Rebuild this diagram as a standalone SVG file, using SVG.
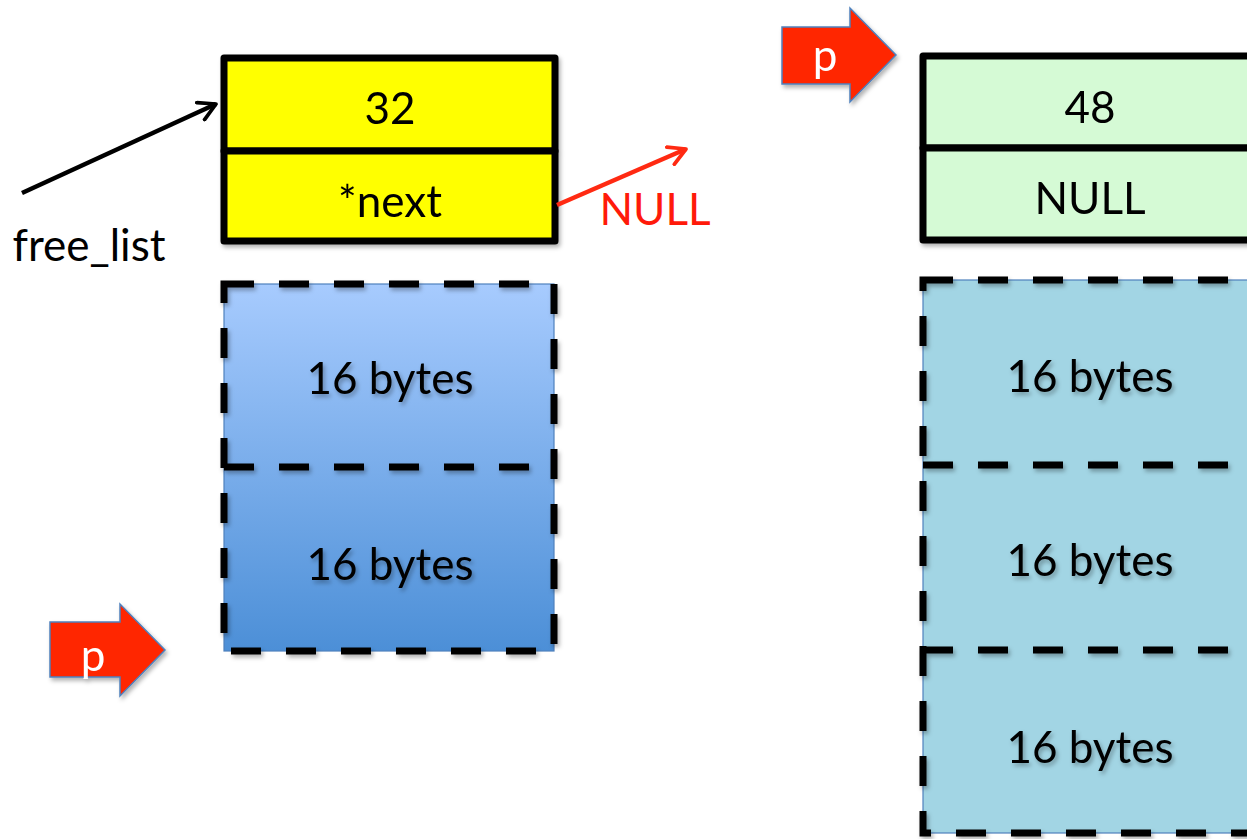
<svg xmlns="http://www.w3.org/2000/svg" width="1247" height="839" viewBox="0 0 1247 839">
<style>
.t{font-family:Lato,"Open Sans","Liberation Sans",sans-serif;font-size:44px;text-anchor:middle;fill:#000}
.solid{stroke:#000;stroke-width:7;stroke-linejoin:round}
.dash{fill:none;stroke:#000;stroke-width:7;stroke-dasharray:30 25}
.thin{stroke:#4f81bd;stroke-width:1.2}
.parrow{fill:#ff2600;stroke:#4f81bd;stroke-width:1.5}
.pt{font-family:Lato,"Open Sans","Liberation Sans",sans-serif;font-size:44px;text-anchor:middle;fill:#fff}
</style>
<defs>
<linearGradient id="blue" x1="0" y1="0" x2="0" y2="1">
<stop offset="0" stop-color="#a7cbfe"/>
<stop offset="1" stop-color="#4c8fd7"/>
</linearGradient>
<filter id="sh" x="-10%" y="-10%" width="130%" height="130%">
<feDropShadow dx="2" dy="3" stdDeviation="2" flood-color="#000" flood-opacity="0.3"/>
</filter>
<marker id="ab" viewBox="0 0 12 12" refX="10" refY="6" markerWidth="5" markerHeight="5" orient="auto" markerUnits="strokeWidth">
<path d="M1,1 L10,6 L1,11" fill="none" stroke="#000" stroke-width="2" stroke-linecap="round" stroke-linejoin="round"/>
</marker>
<marker id="ar" viewBox="0 0 12 12" refX="10" refY="6" markerWidth="5" markerHeight="5" orient="auto" markerUnits="strokeWidth">
<path d="M1,1 L10,6 L1,11" fill="none" stroke="#ff2a12" stroke-width="2" stroke-linecap="round" stroke-linejoin="round"/>
</marker>
</defs>
<rect width="1247" height="839" fill="#fff"/>

<g id="node-32" filter="url(#sh)">
<rect x="224" y="58" width="331" height="93" fill="#ffff00" class="solid"/>
<rect x="224" y="151" width="331" height="90" fill="#ffff00" class="solid"/>
<text class="t" x="390" y="124">32</text>
<text class="t" x="390" y="217">*next</text>
</g>

<g id="free-list-label">
<text class="t" x="89" y="261">free_list</text>
</g>
<g id="null-label">
<text class="t" x="655" y="225" style="fill:#ff1a0a">NULL</text>
</g>

<g id="left-blocks">
<rect x="224" y="284" width="330" height="367" fill="url(#blue)" class="thin"/>
<g filter="url(#sh)">
<rect x="224" y="284" width="330" height="367" class="dash"/>
<line x1="224" y1="467" x2="554" y2="467" class="dash"/>
</g>
<text class="t" x="390" y="394" filter="url(#sh)">16 bytes</text>
<text class="t" x="390" y="580" filter="url(#sh)">16 bytes</text>
</g>

<g id="p-left" filter="url(#sh)">
<polygon class="parrow" points="50,622 120,622 120,604 165,650 120,696 120,677 50,677"/>
<text class="pt" x="93" y="671">p</text>
</g>

<g id="p-top" filter="url(#sh)">
<polygon class="parrow" points="782,27 850,27 850,8 896,55 850,102 850,84 782,84"/>
<text class="pt" x="825" y="71">p</text>
</g>

<g id="node-48" filter="url(#sh)">
<rect x="923" y="56" width="360" height="92" fill="#d5fad5" class="solid"/>
<rect x="923" y="148" width="360" height="92" fill="#d5fad5" class="solid"/>
<text class="t" x="1090" y="123">48</text>
<text class="t" x="1090" y="214">NULL</text>
</g>

<g id="right-blocks">
<rect x="923" y="280" width="360" height="553" fill="#a2d5e4" class="thin"/>
<g filter="url(#sh)">
<rect x="923" y="280" width="360" height="553" class="dash"/>
<line x1="923" y1="465" x2="1283" y2="465" class="dash"/>
<line x1="923" y1="650" x2="1283" y2="650" class="dash"/>
</g>
<text class="t" x="1090" y="392" filter="url(#sh)">16 bytes</text>
<text class="t" x="1090" y="576" filter="url(#sh)">16 bytes</text>
<text class="t" x="1090" y="763" filter="url(#sh)">16 bytes</text>
</g>

<g id="connectors">
<line x1="22" y1="193" x2="216" y2="104" stroke="#000" stroke-width="4.5" marker-end="url(#ab)"/>
<line x1="557" y1="205" x2="686" y2="149" stroke="#ff2a12" stroke-width="4.5" marker-end="url(#ar)"/>
</g>
</svg>
